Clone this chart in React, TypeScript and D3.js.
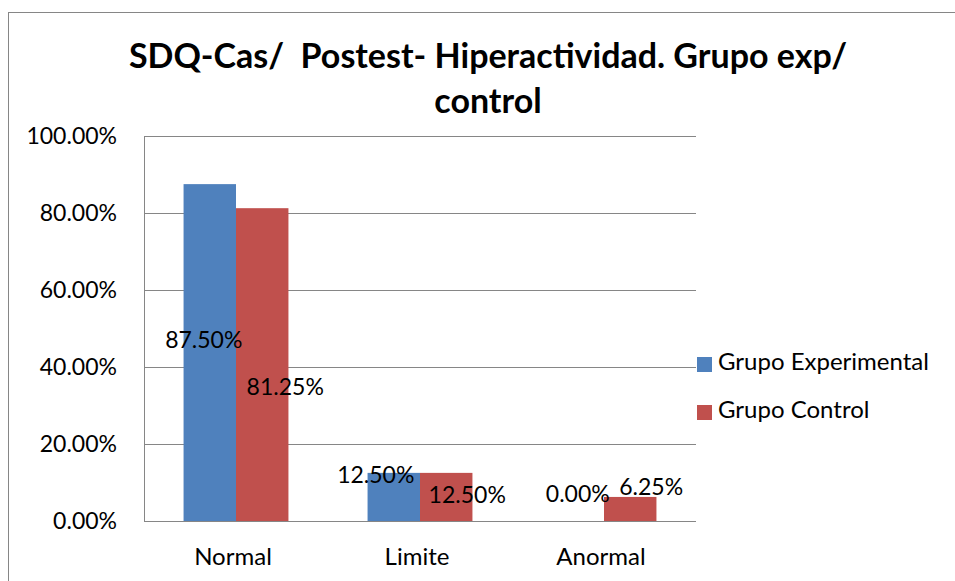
import React, { useEffect } from 'react';
import * as d3 from 'd3';

const title = ['SDQ-Cas/  Postest- Hiperactividad. Grupo exp/', 'control'];
const categories = ['Normal', 'Limite', 'Anormal'];
const seriesNames = ['Grupo Experimental', 'Grupo Control'];
const experimental = [0.875, 0.125, 0];
const control = [0.8125, 0.125, 0.0625];
const yTicks = [0, 0.2, 0.4, 0.6, 0.8, 1];

// label nudges (px) as placed in the original sheet
const labelNudge = [
  [[-6, 164], [23, 187]],
  [[-18, 10], [21, 30]],
  [[0, -19], [21, -2]],
];

const colors = ['#4F81BD', '#C0504D'];
const grid = '#868686';
const font = 'Lato, "Open Sans", sans-serif';

export default function App() {
  useEffect(() => {
    document.body.style.margin = '0';
  }, []);

  const width = 955;
  const height = 581;
  const left = 144;
  const right = 696;
  const top = 136;
  const bottom = 521;

  const x0 = d3.scaleBand<string>().domain(categories).range([left, right]).paddingInner(0.43).paddingOuter(0.215);
  const x1 = d3.scaleBand<number>().domain([0, 1]).range([0, x0.bandwidth()]);
  const y = d3.scaleLinear().domain([0, 1]).range([bottom, top]);
  const pct = d3.format('.2%');
  const values = [experimental, control];

  return (
    <svg width={width} height={height} style={{ display: 'block', background: '#fff' }} fontFamily={font}>
      <rect x={8.5} y={12.5} width={1000} height={1000} fill="#fff" stroke={grid} />

      {title.map((t, i) => (
        <text key={i} x={488} y={68 + i * 45} textAnchor="middle" fontWeight="bold" fontSize={34} fill="#000" style={{ whiteSpace: 'pre' }}>
          {t}
        </text>
      ))}

      {yTicks.map(t => (
        <g key={t}>
          <line x1={left} x2={right} y1={Math.round(y(t)) + 0.5} y2={Math.round(y(t)) + 0.5} stroke={grid} />
          <text x={117} y={y(t) + 8} textAnchor="end" fontSize={23} fill="#000">
            {pct(t)}
          </text>
        </g>
      ))}
      <line x1={left + 0.5} x2={left + 0.5} y1={top} y2={bottom} stroke={grid} />

      {categories.map((c, ci) =>
        values.map((vals, si) => {
          const bx = (x0(c) as number) + (x1(si) as number);
          return (
            <rect
              key={c + si}
              x={bx}
              y={y(vals[ci])}
              width={x1.bandwidth()}
              height={bottom - y(vals[ci])}
              fill={colors[si]}
            />
          );
        })
      )}

      {categories.map((c, ci) =>
        values.map((vals, si) => {
          const cx = (x0(c) as number) + (x1(si) as number) + x1.bandwidth() / 2;
          const [dx, dy] = labelNudge[ci][si];
          return (
            <text key={'l' + c + si} x={cx + dx} y={y(vals[ci]) + dy} textAnchor="middle" fontSize={23} fill="#000">
              {pct(vals[ci])}
            </text>
          );
        })
      )}

      {categories.map(c => (
        <text key={'c' + c} x={(x0(c) as number) + x0.bandwidth() / 2 - 3} y={565} textAnchor="middle" fontSize={24} fill="#000">
          {c}
        </text>
      ))}

      {seriesNames.map((s, i) => (
        <g key={s} transform={`translate(697, ${357 + i * 48})`}>
          <rect width={15} height={15} fill={colors[i]} />
          <text x={21} y={13} fontSize={24} fill="#000">
            {s}
          </text>
        </g>
      ))}
    </svg>
  );
}
